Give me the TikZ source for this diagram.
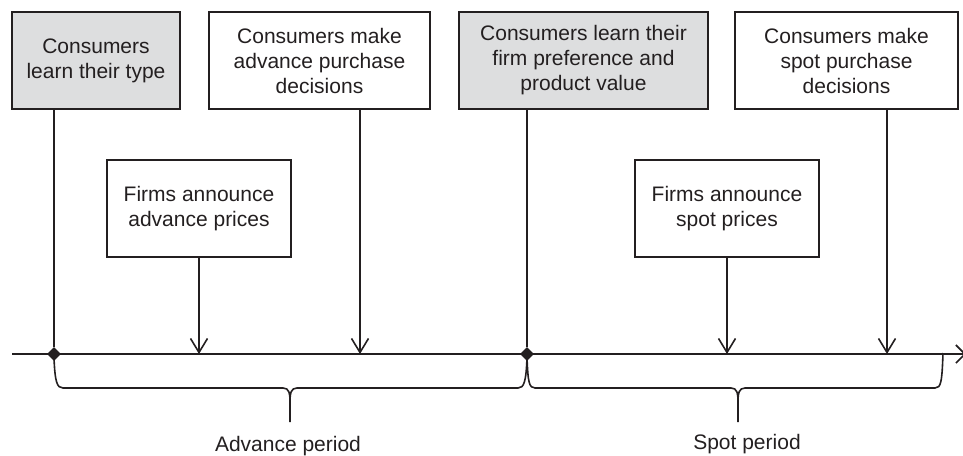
\documentclass[tikz,border=0pt]{standalone}
\usepackage{fontspec}
\setmainfont{Liberation Sans}
\usetikzlibrary{arrows.meta,shapes.geometric}
\definecolor{boxgray}{RGB}{221,222,223}
\definecolor{ink}{RGB}{35,31,32}
\begin{document}
\begin{tikzpicture}[x=1pt,y=-1pt]
    \tikzstyle{every node}=[font=\fontsize{21}{25}\selectfont,text=ink]
    \tikzstyle{event}=[draw=ink,line width=1.6pt,rectangle,align=center,inner sep=0pt,minimum height=97pt]
    \tikzstyle{learn event}=[event,fill=boxgray]
    \tikzstyle{firm event}=[event,minimum width=184pt]
    \tikzstyle{mark point}=[diamond,fill=ink,inner sep=0pt,minimum size=14pt]
    \tikzstyle{tick}=[draw=ink,line width=1.6pt,-{Straight Barb[length=14pt,width=17pt,line width=1.6pt]}]
    \tikzstyle{drop}=[draw=ink,line width=1.6pt]
    \tikzstyle{accolade}=[draw=ink,line width=1.6pt]
\useasboundingbox (0,0) rectangle (963,455);

% Consommateurs
\node[learn event,minimum width=168pt] (B-1) at (96,60.5) {Consumers\\learn their type};
\node[event,minimum width=221pt] (B-2) at (319.5,60.5) {Consumers make\\advance purchase\\decisions};
\node[learn event,minimum width=249pt] (B-3) at (583.5,60.5) {Consumers learn their\\firm preference and\\product value};
\node[event,minimum width=223pt] (B-4) at (846.5,60.5) {Consumers make\\spot purchase\\decisions};

% Entreprises
\node[firm event] (F-1) at (199,208.5) {Firms announce\\advance prices};
\node[firm event] (F-2) at (727,208.5) {Firms announce\\spot prices};

% Axe du temps
\coordinate (A-0) at (12,354);
\coordinate (A-1) at (966,354);
\coordinate (T-1) at (199,354);
\coordinate (T-2) at (360,354);
\coordinate (T-3) at (727,354);
\coordinate (T-4) at (887,354);
\draw[drop,-{Straight Barb[length=9pt,width=18pt,line width=1.6pt]}] (A-0) -- (A-1);

\node[mark point] (D-1) at (54,354) {};
\node[mark point] (D-2) at (527,354) {};

% Liaisons
\draw[drop] (D-1 |- B-1.south) -- (D-1);
\draw[drop] (D-2 |- B-3.south) -- (D-2);
\draw[tick] (F-1.south) -- (T-1);
\draw[tick] (T-2 |- B-2.south) -- (T-2);
\draw[tick] (F-2.south) -- (T-3);
\draw[tick] (T-4 |- B-4.south) -- (T-4);

% Periodes
\draw[accolade] (54,358) .. controls (55,382) and (57,388) .. (63,388) -- (283,388)
   .. controls (289,388) and (290,393) .. (290,402) -- (290,422);
\draw[accolade] (290,402) .. controls (290,393) and (291,388) .. (297,388) -- (518,388)
   .. controls (524,388) and (526,382) .. (527,358);
\draw[accolade] (527,358) .. controls (528,382) and (529,388) .. (535,388) -- (731,388)
   .. controls (737,388) and (738,393) .. (738,402) -- (738,422);
\draw[accolade] (738,402) .. controls (738,393) and (739,388) .. (745,388) -- (935,388)
   .. controls (941,388) and (942,382) .. (943,353);

\node[anchor=base] (P-1) at (288,451) {Advance period};
\node[anchor=base] (P-2) at (747,449) {Spot period};

\end{tikzpicture}
\end{document}
